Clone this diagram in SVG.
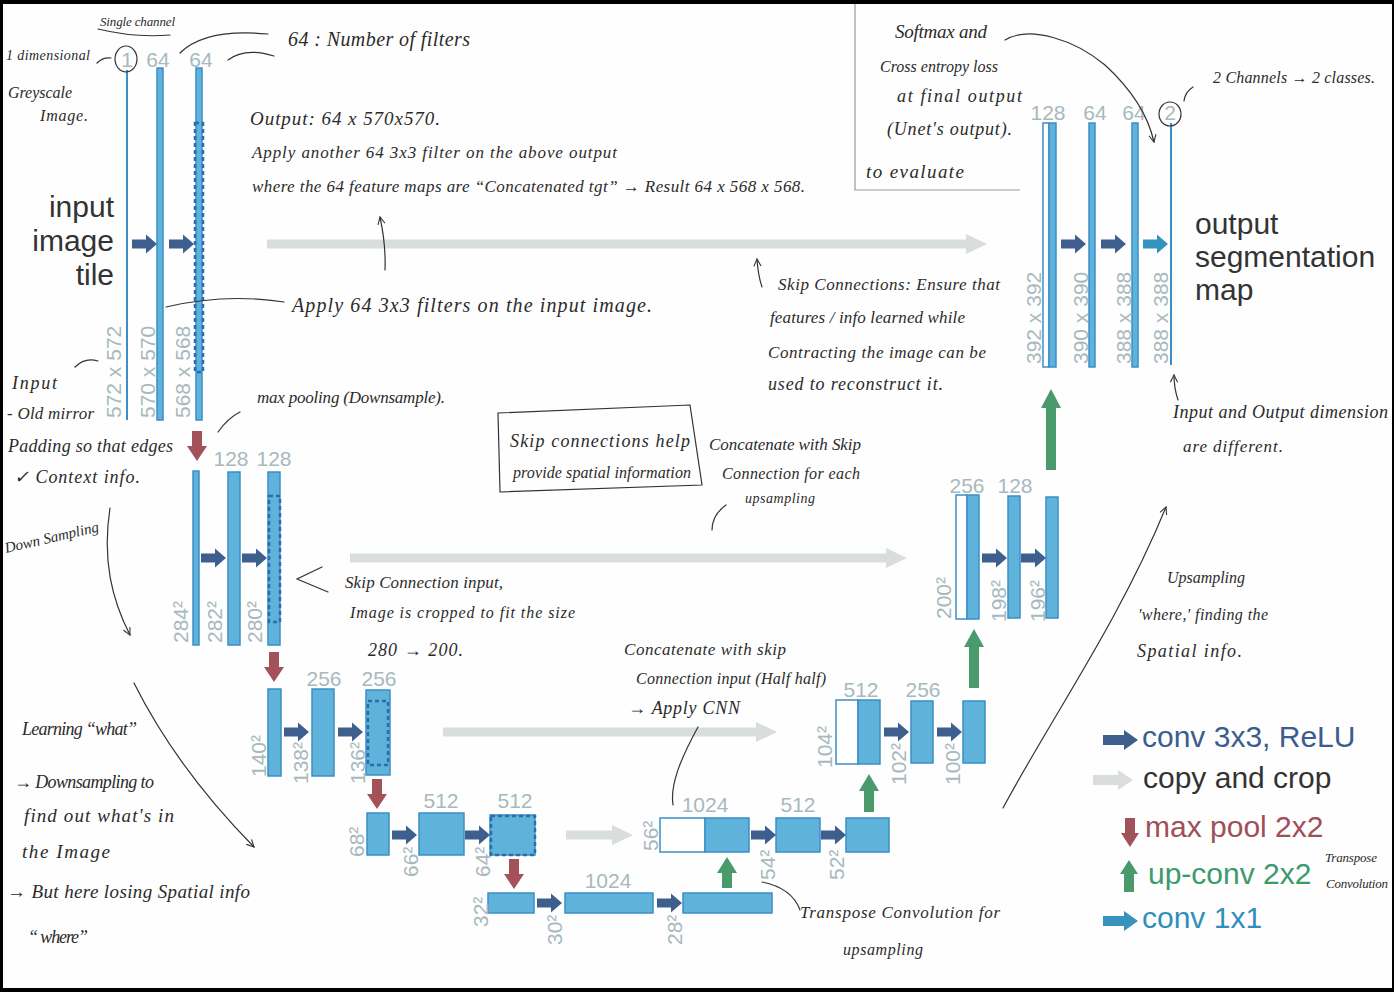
<svg xmlns="http://www.w3.org/2000/svg" width="1394" height="992" viewBox="0 0 1394 992">
<defs>
<style>
.bar{fill:#5fb2d9;stroke:#3b8ec8;stroke-width:1.5}
.wbar{fill:#ffffff;stroke:#3b8ec8;stroke-width:1.5}
.ch{stroke:#3b8ec8;stroke-width:2;fill:none}
.dash{fill:none;stroke:#2b6cb0;stroke-width:2.5;stroke-dasharray:4 3}
.lbl{font-family:"Liberation Sans",Arial,sans-serif;font-size:21px;fill:#a7b9bd}
.big{font-family:"Liberation Sans",Arial,sans-serif;font-size:30px;fill:#333333}
.hw{font-family:"Liberation Serif","Times New Roman",serif;font-style:italic;fill:#2b2b2b}
.conv{fill:#3e5f8e}
.copy{fill:#d9dddc}
.pool{fill:#a4525a}
.up{fill:#4a9a6c}
.c11{fill:#3593bd}
.pen{fill:none;stroke:#333333;stroke-width:1.2;stroke-linecap:round}
.frame{fill:none;stroke:#9a9a9a;stroke-width:1.2}
</style>
<path id="cv" d="M0,-4.5 H14 V-9.5 L25,0 L14,9.5 V4.5 H0 Z"/>
<path id="mp" d="M-5,0 H5 V15 H10 L0,30 L-10,15 H-5 Z"/>
<marker id="hd" viewBox="0 0 10 10" refX="9" refY="5" markerWidth="9" markerHeight="9" orient="auto" markerUnits="userSpaceOnUse">
<path d="M1,1 L9,5 L1,9" fill="none" stroke="#333" stroke-width="1.2"/>
</marker>
</defs>
<rect x="0" y="0" width="1394" height="992" fill="#000"/>
<rect x="3" y="4" width="1389" height="984" fill="#fefefe"/>

<!-- level 1 down -->
<g id="n-l1a"><line class="ch" x1="127" y1="70" x2="127" y2="420"/><text class="lbl" x="127" y="67" text-anchor="middle">1</text><text class="lbl" transform="translate(121,418) rotate(-90)">572 x 572</text></g>
<g id="n-l1b"><rect class="bar" x="157" y="68" width="6" height="352"/><text class="lbl" x="158" y="67" text-anchor="middle">64</text><text class="lbl" transform="translate(155,418) rotate(-90)">570 x 570</text></g>
<g id="n-l1c"><rect class="bar" x="196" y="68" width="6" height="352"/><rect class="dash" x="195" y="123" width="8" height="249"/><text class="lbl" x="201" y="67" text-anchor="middle">64</text><text class="lbl" transform="translate(190,418) rotate(-90)">568 x 568</text></g>
<text class="big" x="114" y="217" text-anchor="end">input</text>
<text class="big" x="114" y="251" text-anchor="end">image</text>
<text class="big" x="114" y="285" text-anchor="end">tile</text>

<!-- level 2 down -->
<g id="n-l2a"><rect class="bar" x="193" y="471" width="6" height="174"/><text class="lbl" transform="translate(188,643) rotate(-90)">284²</text></g>
<g id="n-l2b"><rect class="bar" x="228" y="472" width="12" height="173"/><text class="lbl" x="231" y="466" text-anchor="middle">128</text><text class="lbl" transform="translate(222,643) rotate(-90)">282²</text></g>
<g id="n-l2c"><rect class="bar" x="268" y="472" width="12" height="173"/><rect class="dash" x="269" y="496" width="11" height="126"/><text class="lbl" x="274" y="466" text-anchor="middle">128</text><text class="lbl" transform="translate(262,643) rotate(-90)">280²</text></g>

<!-- level 3 down -->
<g id="n-l3a"><rect class="bar" x="268" y="689" width="13" height="87"/><text class="lbl" transform="translate(266,777) rotate(-90)">140²</text></g>
<g id="n-l3b"><rect class="bar" x="312" y="689" width="22" height="87"/><text class="lbl" x="324" y="686" text-anchor="middle">256</text><text class="lbl" transform="translate(308,784) rotate(-90)">138²</text></g>
<g id="n-l3c"><rect class="bar" x="366" y="690" width="24" height="85"/><rect class="dash" x="368" y="701" width="20" height="64"/><text class="lbl" x="379" y="686" text-anchor="middle">256</text><text class="lbl" transform="translate(365,784) rotate(-90)">136²</text></g>

<!-- level 4 down -->
<g id="n-l4a"><rect class="bar" x="367" y="813" width="22" height="42"/><text class="lbl" transform="translate(364,857) rotate(-90)">68²</text></g>
<g id="n-l4b"><rect class="bar" x="419" y="813" width="45" height="42"/><text class="lbl" x="441" y="808" text-anchor="middle">512</text><text class="lbl" transform="translate(418,877) rotate(-90)">66²</text></g>
<g id="n-l4c"><rect class="bar" x="490" y="815" width="45" height="40"/><rect class="dash" x="491" y="816" width="44" height="39"/><text class="lbl" x="515" y="808" text-anchor="middle">512</text><text class="lbl" transform="translate(490,877) rotate(-90)">64²</text></g>

<!-- bottom -->
<g id="n-l5a"><rect class="bar" x="488" y="893" width="46" height="20"/><text class="lbl" transform="translate(488,927) rotate(-90)">32²</text></g>
<g id="n-l5b"><rect class="bar" x="565" y="893" width="88" height="20"/><text class="lbl" x="608" y="888" text-anchor="middle">1024</text><text class="lbl" transform="translate(562,945) rotate(-90)">30²</text></g>
<g id="n-l5c"><rect class="bar" x="683" y="893" width="89" height="20"/><text class="lbl" transform="translate(682,945) rotate(-90)">28²</text></g>

<!-- up 4 -->
<g id="n-u4a"><rect class="wbar" x="660" y="818" width="45" height="34"/><rect class="bar" x="705" y="818" width="44" height="34"/><text class="lbl" x="705" y="812" text-anchor="middle">1024</text><text class="lbl" transform="translate(658,851) rotate(-90)">56²</text></g>
<g id="n-u4b"><rect class="bar" x="776" y="818" width="44" height="34"/><text class="lbl" x="798" y="812" text-anchor="middle">512</text><text class="lbl" transform="translate(775,880) rotate(-90)">54²</text></g>
<g id="n-u4c"><rect class="bar" x="846" y="818" width="43" height="34"/><text class="lbl" transform="translate(844,880) rotate(-90)">52²</text></g>

<!-- up 3 -->
<g id="n-u3a"><rect class="wbar" x="836" y="700" width="22" height="64"/><rect class="bar" x="858" y="700" width="22" height="64"/><text class="lbl" x="861" y="697" text-anchor="middle">512</text><text class="lbl" transform="translate(832,768) rotate(-90)">104²</text></g>
<g id="n-u3b"><rect class="bar" x="911" y="701" width="22" height="62"/><text class="lbl" x="923" y="697" text-anchor="middle">256</text><text class="lbl" transform="translate(906,785) rotate(-90)">102²</text></g>
<g id="n-u3c"><rect class="bar" x="963" y="701" width="22" height="62"/><text class="lbl" transform="translate(960,785) rotate(-90)">100²</text></g>

<!-- up 2 -->
<g id="n-u2a"><rect class="wbar" x="956" y="495" width="11" height="124"/><rect class="bar" x="967" y="495" width="12" height="124"/><text class="lbl" x="967" y="493" text-anchor="middle">256</text><text class="lbl" transform="translate(951,619) rotate(-90)">200²</text></g>
<g id="n-u2b"><rect class="bar" x="1008" y="496" width="12" height="122"/><text class="lbl" x="1015" y="493" text-anchor="middle">128</text><text class="lbl" transform="translate(1006,622) rotate(-90)">198²</text></g>
<g id="n-u2c"><rect class="bar" x="1046" y="497" width="12" height="121"/><text class="lbl" transform="translate(1045,622) rotate(-90)">196²</text></g>

<!-- up 1 -->
<g id="n-u1a"><rect class="wbar" x="1043" y="123" width="6" height="244"/><rect class="bar" x="1049" y="123" width="7" height="244"/><text class="lbl" x="1048" y="120" text-anchor="middle">128</text><text class="lbl" transform="translate(1041,364) rotate(-90)">392 x 392</text></g>
<g id="n-u1b"><rect class="bar" x="1089" y="123" width="6" height="244"/><text class="lbl" x="1095" y="120" text-anchor="middle">64</text><text class="lbl" transform="translate(1088,364) rotate(-90)">390 x 390</text></g>
<g id="n-u1c"><rect class="bar" x="1132" y="123" width="6" height="244"/><text class="lbl" x="1134" y="120" text-anchor="middle">64</text><text class="lbl" transform="translate(1131,364) rotate(-90)">388 x 388</text></g>
<g id="n-u1d"><line class="ch" x1="1171" y1="123" x2="1171" y2="365"/><text class="lbl" x="1170" y="120" text-anchor="middle">2</text><text class="lbl" transform="translate(1168,364) rotate(-90)">388 x 388</text></g>
<text class="big" x="1195" y="234">output</text>
<text class="big" x="1195" y="267">segmentation</text>
<text class="big" x="1195" y="300">map</text>

<!-- connectors -->
<g id="connectors">
<use href="#cv" class="conv" x="132" y="244"/>
<use href="#cv" class="conv" x="169" y="244"/>
<use href="#cv" class="conv" x="201" y="558"/>
<use href="#cv" class="conv" x="242" y="558"/>
<use href="#cv" class="conv" x="284" y="732"/>
<use href="#cv" class="conv" x="338" y="732"/>
<use href="#cv" class="conv" x="392" y="835"/>
<use href="#cv" class="conv" x="465" y="835"/>
<use href="#cv" class="conv" x="537" y="903"/>
<use href="#cv" class="conv" x="657" y="903"/>
<use href="#cv" class="conv" x="751" y="835"/>
<use href="#cv" class="conv" x="821" y="835"/>
<use href="#cv" class="conv" x="884" y="732"/>
<use href="#cv" class="conv" x="937" y="732"/>
<use href="#cv" class="conv" x="982" y="558"/>
<use href="#cv" class="conv" x="1021" y="558"/>
<use href="#cv" class="conv" x="1061" y="244"/>
<use href="#cv" class="conv" x="1101" y="244"/>
<use href="#cv" class="c11" x="1143" y="244"/>
<path class="copy" d="M267,239.5 H966 V234 L987,244 L966,254 V248.5 H267 Z"/>
<path class="copy" d="M350,553.5 H886 V548 L907,558 L886,568 V562.5 H350 Z"/>
<path class="copy" d="M443,727.5 H756 V722 L777,732 L756,742 V736.5 H443 Z"/>
<path class="copy" d="M566,830.5 H612 V825 L633,835 L612,845 V839.5 H566 Z"/>
<use href="#mp" class="pool" x="197" y="431"/>
<use href="#mp" class="pool" x="274" y="652"/>
<use href="#mp" class="pool" x="377" y="779"/>
<use href="#mp" class="pool" x="514" y="859"/>
<path class="up" d="M722,888 V873 H717 L727,857 L737,873 H732 V888 Z"/>
<path class="up" d="M864,812 V791 H859 L869,774 L879,791 H874 V812 Z"/>
<path class="up" d="M969,688 V647 H964 L974,629 L984,647 H979 V688 Z"/>
<path class="up" d="M1046,470 V408 H1041 L1051,389 L1061,408 H1056 V470 Z"/>
</g>

<!-- legend -->
<g id="legend">
<path class="conv" d="M1103,735 H1124 V730 L1138,740 L1124,750 V745 H1103 Z"/>
<text class="big" x="1142" y="747" style="fill:#3a5d8e">conv 3x3, ReLU</text>
<path class="copy" d="M1093,775 H1118 V770 L1133,780 L1118,790 V785 H1093 Z"/>
<text class="big" x="1143" y="788">copy and crop</text>
<path class="pool" d="M1125,818 H1135 V833 H1139 L1130,847 L1121,833 H1125 Z"/>
<text class="big" x="1145" y="837" style="fill:#a04e58">max pool 2x2</text>
<path class="up" d="M1124,892 V874 H1120 L1129,860 L1138,874 H1134 V892 Z"/>
<text class="big" x="1148" y="884" style="fill:#3d9a6a">up-conv 2x2</text>
<path class="c11" d="M1103,916 H1124 V911 L1138,921 L1124,931 V926 H1103 Z"/>
<text class="big" x="1142" y="928" style="fill:#2f8fba">conv 1x1</text>
</g>

<!-- handwritten annotations -->
<g id="notes">
<ellipse class="pen" cx="126" cy="59" rx="11" ry="13"/>
<ellipse class="pen" cx="1170" cy="114" rx="11" ry="12"/>
<text class="hw" x="100" y="26" font-size="13" textLength="75">Single channel</text>
<path class="pen" d="M98,29 Q135,38 170,35"/>
<text class="hw" x="6" y="60" font-size="14" textLength="84">1 dimensional</text>
<path class="pen" d="M97,63 Q103,57 111,58"/>
<text class="hw" x="8" y="98" font-size="16" textLength="64">Greyscale</text>
<text class="hw" x="40" y="121" font-size="16" textLength="48">Image.</text>
<path class="pen" d="M180,53 Q205,28 268,34"/>
<path class="pen" d="M228,60 Q245,47 274,56"/>
<text class="hw" x="288" y="46" font-size="20" textLength="182">64 : Number of filters</text>
<text class="hw" x="250" y="125" font-size="19" textLength="190">Output: 64 x 570x570.</text>
<text class="hw" x="252" y="158" font-size="17" textLength="365">Apply another 64 3x3 filter on the above output</text>
<text class="hw" x="252" y="192" font-size="17" textLength="553">where the 64 feature maps are “Concatenated tgt” → Result 64 x 568 x 568.</text>
<path class="pen" d="M385,270 Q386,245 380,217" marker-end="url(#hd)"/>
<text class="hw" x="292" y="312" font-size="20" textLength="360">Apply 64 3x3 filters on the input image.</text>
<path class="pen" d="M166,307 Q225,293 284,302"/>
<path class="pen" d="M762,287 Q758,275 757,259" marker-end="url(#hd)"/>
<text class="hw" x="778" y="290" font-size="17" textLength="222">Skip Connections: Ensure that</text>
<text class="hw" x="770" y="323" font-size="17" textLength="195">features / info learned while</text>
<text class="hw" x="768" y="358" font-size="17" textLength="218">Contracting the image can be</text>
<text class="hw" x="768" y="390" font-size="18" textLength="175">used to reconstruct it.</text>
<path class="frame" d="M855,4 V190 H1020"/>
<text class="hw" x="895" y="38" font-size="19" textLength="92">Softmax and</text>
<text class="hw" x="880" y="72" font-size="16" textLength="118">Cross entropy loss</text>
<text class="hw" x="897" y="102" font-size="18" textLength="125">at final output</text>
<text class="hw" x="887" y="135" font-size="18" textLength="125">(Unet's output).</text>
<text class="hw" x="866" y="178" font-size="19" textLength="98">to evaluate</text>
<path class="pen" d="M1005,40 C1030,25 1075,40 1105,65 C1130,88 1148,115 1154,142" marker-end="url(#hd)"/>
<text class="hw" x="1213" y="83" font-size="16" textLength="162">2 Channels → 2 classes.</text>
<path class="pen" d="M1184,101 Q1185,92 1193,87"/>
<path class="pen" d="M1178,400 Q1174,388 1174,375" marker-end="url(#hd)"/>
<text class="hw" x="1173" y="418" font-size="18" textLength="215">Input and Output dimension</text>
<text class="hw" x="1183" y="452" font-size="17" textLength="100">are different.</text>
<text class="hw" x="257" y="403" font-size="17" textLength="188">max pooling (Downsample).</text>
<path class="pen" d="M218,432 Q228,418 240,412"/>
<text class="hw" x="12" y="389" font-size="18" textLength="45">Input</text>
<path class="pen" d="M75,367 Q85,357 98,361"/>
<text class="hw" x="7" y="419" font-size="17" textLength="87">- Old mirror</text>
<text class="hw" x="8" y="452" font-size="18" textLength="165">Padding so that edges</text>
<text class="hw" x="14" y="483" font-size="18" textLength="126">✓ Context info.</text>
<text class="hw" transform="translate(6,553) rotate(-13)" font-size="15" textLength="96">Down Sampling</text>
<path class="pen" d="M110,508 C102,560 112,600 130,635" marker-end="url(#hd)"/>
<path class="pen" d="M498,413 L690,405 L702,485 L500,492 Z"/>
<text class="hw" x="510" y="447" font-size="18" textLength="180">Skip connections help</text>
<text class="hw" x="513" y="478" font-size="16" textLength="178">provide spatial information</text>
<text class="hw" x="709" y="450" font-size="17" textLength="152">Concatenate with Skip</text>
<text class="hw" x="722" y="479" font-size="16" textLength="138">Connection for each</text>
<text class="hw" x="745" y="503" font-size="14" textLength="70">upsampling</text>
<path class="pen" d="M712,530 Q712,515 726,505"/>
<path class="pen" d="M322,567 L297,579 L328,592"/>
<text class="hw" x="345" y="588" font-size="17" textLength="158">Skip Connection input,</text>
<text class="hw" x="350" y="618" font-size="16" textLength="225">Image is cropped to fit the size</text>
<text class="hw" x="368" y="656" font-size="18" textLength="95">280 → 200.</text>
<text class="hw" x="624" y="655" font-size="17" textLength="162">Concatenate with skip</text>
<text class="hw" x="636" y="684" font-size="16" textLength="190">Connection input (Half half)</text>
<text class="hw" x="628" y="714" font-size="18" textLength="112">→ Apply CNN</text>
<path class="pen" d="M698,727 C680,760 670,785 673,805"/>
<text class="hw" x="22" y="735" font-size="18" textLength="115">Learning “what”</text>
<text class="hw" x="14" y="788" font-size="18" textLength="140">→ Downsampling to</text>
<text class="hw" x="24" y="822" font-size="19" textLength="150">find out what's in</text>
<text class="hw" x="22" y="858" font-size="19" textLength="88">the Image</text>
<text class="hw" x="7" y="898" font-size="19" textLength="243">→ But here losing Spatial info</text>
<text class="hw" x="28" y="943" font-size="18" textLength="60">“ where”</text>
<path class="pen" d="M134,683 C160,735 200,792 254,847" marker-end="url(#hd)"/>
<path class="pen" d="M762,882 Q792,888 800,910"/>
<text class="hw" x="800" y="918" font-size="17" textLength="200">Transpose Convolution for</text>
<text class="hw" x="843" y="955" font-size="16" textLength="80">upsampling</text>
<path class="pen" d="M1003,808 C1050,720 1120,620 1166,507" marker-end="url(#hd)"/>
<text class="hw" x="1167" y="583" font-size="16" textLength="78">Upsampling</text>
<text class="hw" x="1138" y="620" font-size="16" textLength="130">'where,' finding the</text>
<text class="hw" x="1137" y="657" font-size="18" textLength="105">Spatial info.</text>
<text class="hw" x="1325" y="862" font-size="13" textLength="52">Transpose</text>
<text class="hw" x="1326" y="888" font-size="13" textLength="62">Convolution</text>
</g>
</svg>
